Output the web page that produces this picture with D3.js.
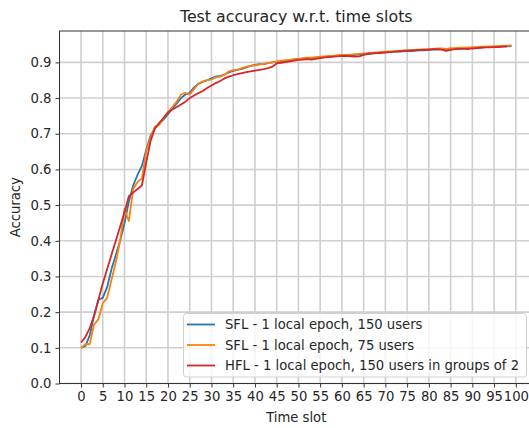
<!DOCTYPE html>
<html><head><meta charset="utf-8">
<script src="https://cdn.jsdelivr.net/npm/d3@7"></script>
<style>body{margin:0;background:#fff}svg{display:block}text{font-family:"DejaVu Sans",sans-serif;fill:#262626}</style>
</head><body><svg id="c" width="529" height="428"></svg>
<script>
const title = "Test accuracy w.r.t. time slots";
const xLabel = "Time slot";
const yLabel = "Accuracy";
const xTicks = [0,5,10,15,20,25,30,35,40,45,50,55,60,65,70,75,80,85,90,95,100];
const yTicks = [0.0,0.1,0.2,0.3,0.4,0.5,0.6,0.7,0.8,0.9];
const seriesNames = ["SFL - 1 local epoch, 150 users","SFL - 1 local epoch, 75 users","HFL - 1 local epoch, 150 users in groups of 2"];
const seriesColors = ["#1f77b4","#ff7f0e","#d62728"];
const sfl150 = [0.100,0.105,0.135,0.19,0.235,0.24,0.27,0.32,0.36,0.40,0.45,0.51,0.555,0.585,0.61,0.655,0.695,0.715,0.73,0.74,0.755,0.77,0.785,0.80,0.81,0.815,0.83,0.84,0.845,0.85,0.855,0.86,0.862,0.866,0.872,0.876,0.879,0.882,0.886,0.89,0.893,0.895,0.895,0.898,0.90,0.902,0.903,0.905,0.906,0.908,0.909,0.91,0.911,0.912,0.913,0.914,0.915,0.916,0.917,0.918,0.919,0.92,0.92,0.921,0.922,0.922,0.923,0.925,0.926,0.927,0.928,0.929,0.93,0.93,0.931,0.932,0.932,0.933,0.934,0.934,0.935,0.936,0.936,0.937,0.937,0.938,0.938,0.939,0.94,0.94,0.941,0.941,0.942,0.943,0.943,0.944,0.944,0.945,0.945,0.946];
const sfl75 = [0.10,0.11,0.11,0.165,0.18,0.225,0.24,0.29,0.34,0.40,0.49,0.455,0.545,0.565,0.575,0.65,0.69,0.72,0.725,0.745,0.76,0.775,0.79,0.81,0.815,0.81,0.825,0.84,0.847,0.85,0.852,0.858,0.86,0.865,0.875,0.878,0.88,0.884,0.888,0.89,0.892,0.894,0.896,0.898,0.90,0.902,0.904,0.906,0.907,0.909,0.91,0.912,0.913,0.913,0.915,0.916,0.917,0.918,0.918,0.92,0.921,0.921,0.922,0.923,0.924,0.925,0.925,0.927,0.928,0.929,0.93,0.931,0.931,0.932,0.933,0.934,0.935,0.935,0.936,0.937,0.937,0.938,0.939,0.939,0.938,0.94,0.94,0.941,0.941,0.942,0.942,0.943,0.944,0.944,0.945,0.945,0.946,0.946,0.947,0.948];
const hfl150 = [0.115,0.13,0.155,0.19,0.235,0.28,0.32,0.36,0.40,0.44,0.48,0.525,0.535,0.545,0.555,0.62,0.68,0.715,0.73,0.745,0.76,0.768,0.775,0.782,0.79,0.80,0.807,0.814,0.82,0.828,0.835,0.842,0.848,0.855,0.86,0.864,0.867,0.87,0.873,0.875,0.877,0.879,0.881,0.884,0.888,0.897,0.899,0.901,0.903,0.905,0.907,0.908,0.909,0.908,0.91,0.912,0.914,0.915,0.916,0.917,0.918,0.918,0.917,0.916,0.917,0.921,0.925,0.925,0.926,0.927,0.928,0.929,0.93,0.931,0.932,0.933,0.933,0.934,0.935,0.935,0.936,0.937,0.937,0.936,0.932,0.935,0.937,0.938,0.938,0.937,0.939,0.94,0.941,0.942,0.942,0.943,0.943,0.944,0.945];
const allSeries = [sfl150, sfl75, hfl150];

const svg = d3.select("#c");
const L = 59.5, R = 533, T = 31, B = 383.5;
const x = d3.scaleLinear().domain([-4.95, 103.95]).range([L, R]);
const y = d3.scaleLinear().domain([0, 0.988]).range([B, T]);

// grid
const g = svg.append("g");
g.selectAll(".gx").data(xTicks).join("line")
  .attr("x1", d => x(d)).attr("x2", d => x(d)).attr("y1", T).attr("y2", B)
  .attr("stroke", "#cfcfcf").attr("stroke-width", 1.6);
g.selectAll(".gy").data(yTicks).join("line")
  .attr("y1", d => y(d)).attr("y2", d => y(d)).attr("x1", L).attr("x2", R)
  .attr("stroke", "#cfcfcf").attr("stroke-width", 1.6);

// lines
const line = d3.line().x((d, i) => x(i)).y(d => y(d));
allSeries.forEach((s, k) => {
  svg.append("path").datum(s).attr("d", line).attr("fill", "none")
    .attr("stroke", seriesColors[k]).attr("stroke-width", 1.8).attr("stroke-linejoin", "round");
});

// axes
const xAxis = d3.axisBottom(x).tickValues(xTicks).tickSize(4).tickPadding(4).tickFormat(d3.format("d"));
const yAxis = d3.axisLeft(y).tickValues(yTicks).tickSize(4).tickPadding(4).tickFormat(d3.format(".1f"));
const xg = svg.append("g").attr("transform", `translate(0,${B})`).call(xAxis);
const yg = svg.append("g").attr("transform", `translate(${L},0)`).call(yAxis);
[xg, yg].forEach(a => {
  a.select(".domain").remove();
  a.selectAll("line").attr("stroke", "#333");
  a.selectAll("text").attr("font-size", 13.2).attr("font-family", "DejaVu Sans").attr("fill", "#262626");
});
// spines
svg.append("rect").attr("x", L).attr("y", T).attr("width", R - L).attr("height", B - T)
  .attr("fill", "none").attr("stroke", "#333").attr("stroke-width", 1);

// labels
svg.append("text").attr("x", (L + R) / 2).attr("y", 22).attr("text-anchor", "middle").attr("font-size", 15.8).text(title);
svg.append("text").attr("x", (L + R) / 2).attr("y", 422).attr("text-anchor", "middle").attr("font-size", 13.2).text(xLabel);
svg.append("text").attr("transform", `translate(20,${(T + B) / 2}) rotate(-90)`).attr("text-anchor", "middle").attr("font-size", 13.2).text(yLabel);

// legend
const lg = svg.append("g");
lg.append("rect").attr("x", 183.5).attr("y", 313.5).attr("width", 343).attr("height", 63.5).attr("rx", 3)
  .attr("fill", "#fff").attr("fill-opacity", 0.8).attr("stroke", "#d0d0d0").attr("stroke-width", 1);
seriesNames.forEach((n, k) => {
  const yy = 324.5 + k * 20.5;
  lg.append("line").attr("x1", 187).attr("x2", 215).attr("y1", yy).attr("y2", yy)
    .attr("stroke", seriesColors[k]).attr("stroke-width", 1.8);
  lg.append("text").attr("x", 225).attr("y", yy + 4.6).attr("font-size", 13.2).text(n);
});
</script></body></html>
